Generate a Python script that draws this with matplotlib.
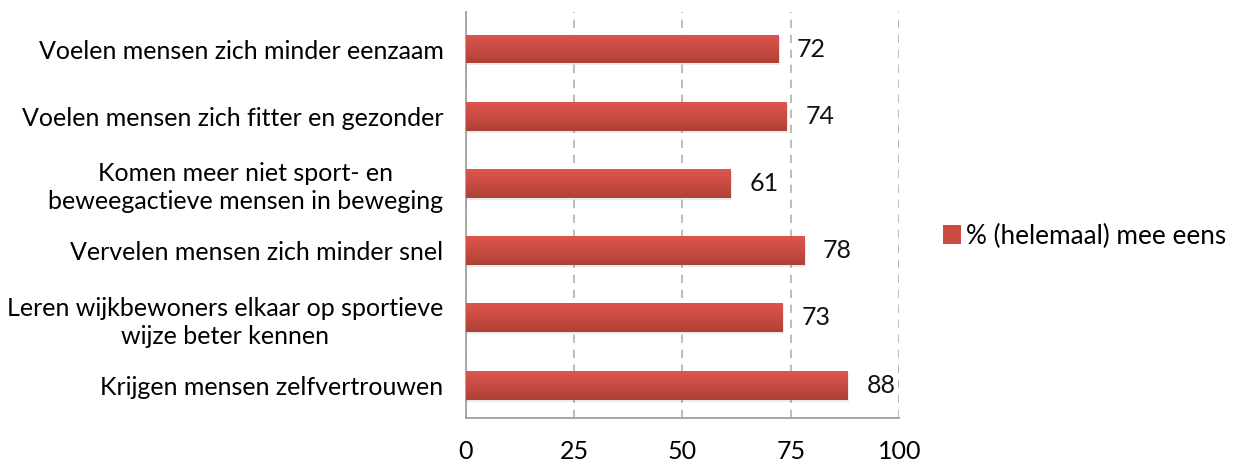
import matplotlib.pyplot as plt
import numpy as np
from matplotlib.colors import LinearSegmentedColormap
from matplotlib.patches import Patch

categories = [
    "Voelen mensen zich minder eenzaam",
    "Voelen mensen zich fitter en gezonder",
    "Komen meer niet sport- en\nbeweegactieve mensen in beweging",
    "Vervelen mensen zich minder snel",
    "Leren wijkbewoners elkaar op sportieve\nwijze beter kennen",
    "Krijgen mensen zelfvertrouwen",
]
values = [72, 74, 61, 78, 73, 88]
series_name = "% (helemaal) mee eens"
xticks = [0, 25, 50, 75, 100]

plt.rcParams["font.family"] = ["Lato", "DejaVu Sans"]
FS = 18

fig = plt.figure(figsize=(12.42, 4.63), dpi=100)
ax = fig.add_axes([0.375, 0.097, 0.349, 0.877])

y = np.arange(len(categories))[::-1]
bar_h = 0.43
grad = LinearSegmentedColormap.from_list("bar", ["#dc564c", "#c94b42", "#ad4137"])
g = np.linspace(0, 1, 64).reshape(-1, 1)

for yi, v in zip(y, values):
    # soft drop shadow under each bar
    ax.barh(yi - 0.03, v, height=bar_h, left=0.4, color="#000000", alpha=0.08,
            zorder=2, linewidth=0)
    bar = ax.barh(yi, v, height=bar_h, color="none", zorder=3, linewidth=0)[0]
    im = ax.imshow(g, aspect="auto", cmap=grad, zorder=3,
                   extent=[0, v, yi - bar_h / 2, yi + bar_h / 2])
    im.set_clip_path(bar)
    ax.text(v + 4.4, yi, str(v), va="center", ha="left", fontsize=FS, color="#111111")

ax.set_xlim(0, 100)
ax.set_ylim(-0.49, len(categories) - 0.45)
ax.set_xticks(xticks)
ax.set_xticklabels([str(t) for t in xticks], fontsize=FS)
ax.tick_params(axis="x", length=0, pad=16)
ax.set_yticks(y)
ax.set_yticklabels(categories, fontsize=FS, linespacing=1.25)
ax.tick_params(axis="y", length=0, pad=16)
for lbl in ax.get_yticklabels():
    lbl.set_multialignment("center")

ax.grid(axis="x", linestyle=(0, (5, 4)), color="#b0b0b0", linewidth=1.2, zorder=0)
ax.set_axisbelow(True)
for side in ["top", "right"]:
    ax.spines[side].set_visible(False)
ax.spines["left"].set_color("#a0a0a0")
ax.spines["bottom"].set_color("#a0a0a0")
ax.spines["left"].set_linewidth(1.3)
ax.spines["bottom"].set_linewidth(1.3)

handle = Patch(facecolor="#c94b42", edgecolor="none")
fig.legend([handle], [series_name], loc="center left", bbox_to_anchor=(0.74, 0.49),
           frameon=False, fontsize=18.8, handlelength=0.7, handleheight=0.7,
           handletextpad=0.2)

fig.savefig("out.png", dpi=100)
